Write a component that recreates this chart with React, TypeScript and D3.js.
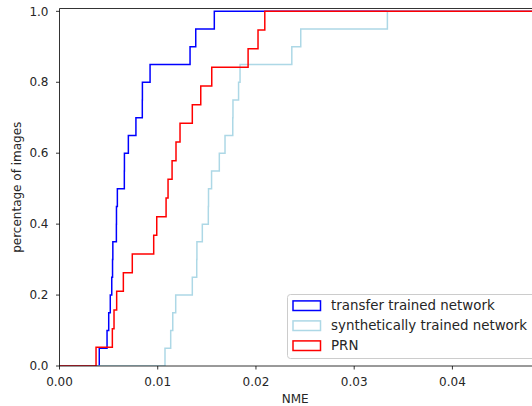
import { useEffect, useRef } from 'react'
import * as d3 from 'd3'

// NME per image, sorted
const transferNme = [
  0.00405, 0.00484, 0.00501, 0.00517, 0.00532, 0.0054, 0.00543, 0.00579, 0.0058, 0.00589,
  0.0066, 0.00661, 0.00701, 0.00778, 0.00843, 0.00844, 0.00922, 0.01329, 0.01387, 0.01576,
]
const syntheticNme = [
  0.01074, 0.01132, 0.01153, 0.01183, 0.01352, 0.01397, 0.01399, 0.01454, 0.01515, 0.01517,
  0.01548, 0.01627, 0.01685, 0.01764, 0.01766, 0.01823, 0.01838, 0.02365, 0.02456, 0.03338,
]
const prnNme = [
  0.00372, 0.00538, 0.00555, 0.00582, 0.0065, 0.00741, 0.00959, 0.0099, 0.01085, 0.01105,
  0.01146, 0.01186, 0.01227, 0.01352, 0.01438, 0.0155, 0.0192, 0.02021, 0.0209,
]

const seriesNames = ['transfer trained network', 'synthetically trained network', 'PRN']
const seriesColors = ['blue', 'lightblue', 'red']
const xTicks = [0, 0.01, 0.02, 0.03, 0.04]
const yTicks = [0, 0.2, 0.4, 0.6, 0.8, 1.0]

const App = () => {
  const svgRef = useRef<SVGSVGElement>(null)

  useEffect(() => {
    const svg = d3.select(svgRef.current)
    svg.selectAll('*').remove()

    const width = 532
    const height = 406
    const left = 59.5
    const right = 531
    const top = 8.5
    const bottom = 366

    const x = d3.scaleLinear().domain([0, 0.048]).range([left, right])
    const y = d3.scaleLinear().domain([0, 1.008]).range([bottom, top])
    // figure is cropped on the right, plot runs past the edge
    const xEnd = 0.05

    svg.attr('width', width).attr('height', height)

    svg
      .append('clipPath')
      .attr('id', 'plot-clip')
      .append('rect')
      .attr('x', left)
      .attr('y', top - 2)
      .attr('width', x(xEnd) - left)
      .attr('height', bottom - top + 2)

    // cumulative step lines
    const line = d3
      .line<[number, number]>()
      .x((d) => x(d[0]))
      .y((d) => y(d[1]))
      .curve(d3.curveStepAfter)

    const allSeries = [transferNme, syntheticNme, prnNme]
    allSeries.forEach((vals, k) => {
      const n = vals.length
      const pts: [number, number][] = [[0, 0]]
      vals.forEach((v, i) => pts.push([v, (i + 1) / n]))
      pts.push([xEnd, 1])
      svg
        .append('path')
        .attr('clip-path', 'url(#plot-clip)')
        .attr('d', line(pts))
        .attr('fill', 'none')
        .attr('stroke', seriesColors[k])
        .attr('stroke-width', 1.5)
    })

    // spines
    const spine = svg.append('g').attr('stroke', 'black').attr('stroke-width', 0.8)
    spine.append('line').attr('x1', left).attr('x2', left).attr('y1', top).attr('y2', bottom)
    spine.append('line').attr('x1', left).attr('x2', x(xEnd)).attr('y1', bottom).attr('y2', bottom)
    spine.append('line').attr('x1', left).attr('x2', x(xEnd)).attr('y1', top).attr('y2', top)

    const font = 'DejaVu Sans'

    // x axis
    const xAxis = svg.append('g')
    xTicks.forEach((t) => {
      xAxis
        .append('line')
        .attr('x1', x(t))
        .attr('x2', x(t))
        .attr('y1', bottom)
        .attr('y2', bottom + 3.5)
        .attr('stroke', 'black')
        .attr('stroke-width', 0.8)
      xAxis
        .append('text')
        .attr('x', x(t))
        .attr('y', bottom + 20)
        .attr('text-anchor', 'middle')
        .attr('font-family', font)
        .attr('font-size', 12)
        .attr('fill', '#262626')
        .text(d3.format('.2f')(t))
    })
    svg
      .append('text')
      .attr('x', (left + right) / 2)
      .attr('y', 403)
      .attr('text-anchor', 'middle')
      .attr('font-family', font)
      .attr('font-size', 12)
      .attr('fill', '#262626')
      .text('NME')

    // y axis
    const yAxis = svg.append('g')
    yTicks.forEach((t) => {
      yAxis
        .append('line')
        .attr('x1', left - 3.5)
        .attr('x2', left)
        .attr('y1', y(t))
        .attr('y2', y(t))
        .attr('stroke', 'black')
        .attr('stroke-width', 0.8)
      yAxis
        .append('text')
        .attr('x', left - 11)
        .attr('y', y(t))
        .attr('dy', '0.35em')
        .attr('text-anchor', 'end')
        .attr('font-family', font)
        .attr('font-size', 12)
        .attr('fill', '#262626')
        .text(d3.format('.1f')(t))
    })
    svg
      .append('text')
      .attr('transform', `translate(21, ${(top + bottom) / 2}) rotate(-90)`)
      .attr('text-anchor', 'middle')
      .attr('font-family', font)
      .attr('font-size', 12)
      .attr('fill', '#262626')
      .text('percentage of images')

    // legend (lower right)
    const legend = svg.append('g')
    legend
      .append('rect')
      .attr('x', 287.5)
      .attr('y', 294.5)
      .attr('width', 260)
      .attr('height', 64)
      .attr('rx', 3)
      .attr('fill', 'white')
      .attr('fill-opacity', 0.8)
      .attr('stroke', '#cccccc')
      .attr('stroke-width', 1)
    seriesNames.forEach((name, i) => {
      const cy = 305.7 + i * 20
      legend
        .append('rect')
        .attr('x', 293)
        .attr('y', cy - 4.8)
        .attr('width', 27.5)
        .attr('height', 9.6)
        .attr('fill', 'none')
        .attr('stroke', seriesColors[i])
        .attr('stroke-width', 1.5)
      legend
        .append('text')
        .attr('x', 331)
        .attr('y', cy)
        .attr('dy', '0.35em')
        .attr('font-family', font)
        .attr('font-size', 13.4)
        .attr('fill', '#262626')
        .text(name)
    })
  }, [])

  return <svg ref={svgRef} style={{ position: 'absolute', left: 0, top: 0 }} />
}

export default App
